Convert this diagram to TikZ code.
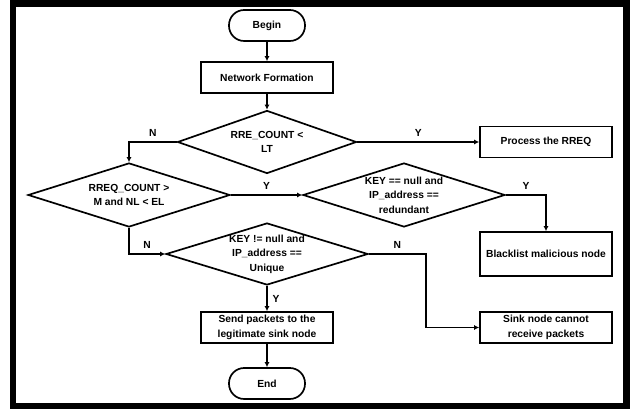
\documentclass[tikz,border=0pt]{standalone}
\usepackage{fontspec}
\setmainfont{Liberation Sans}
\usetikzlibrary{positioning, arrows.meta, shapes.geometric}

\begin{document}
\begin{tikzpicture}[
  every node/.style={font=\bfseries\fontsize{7.3}{10.4}\selectfont, align=center},
  term/.style={draw, line width=1.2pt, rounded corners=0.38cm,
               minimum width=1.9cm, minimum height=0.775cm},
  proc/.style={draw, line width=1.2pt, inner sep=1pt,
               minimum width=3.3cm, minimum height=0.775cm},
  decision/.style={draw, diamond, line width=1.2pt, inner sep=0pt,
               minimum width=5.05cm, minimum height=1.6cm},
  flow/.style={line width=1.2pt, -{Latex[length=3.5pt, width=3.5pt]}},
]
  \useasboundingbox (0,0) rectangle (15.75,-10.225);
  \fill[white] (0,0) rectangle (15.75,-10.225);
  \draw[line width=0.1625cm] (0.325,-0.0875) rectangle (15.6625,-10.15);

  % Start and first step
  \node[term] (begin) at (6.675,-0.6375) {Begin};
  \node[proc] (netform) at (6.675,-1.9375) {Network Formation};

  % Decisions
  \node[decision, minimum width=4.475cm, minimum height=1.575cm,
        label=center:{RRE\_COUNT <\\LT}] (d1) at (6.675,-3.55) {};
  \node[decision, label=center:{RREQ\_COUNT >\\M and NL < EL}] (d2) at (3.225,-4.875) {};
  \node[decision, label=center:{KEY == null and\\IP\_address ==\\redundant}] (d3) at (10.1,-4.875) {};
  \node[decision, minimum height=1.55cm,
        label=center:{KEY != null and\\IP\_address ==\\Unique}] (d4) at (6.675,-6.35) {};

  % Outcomes
  \node[proc] (process) at (13.65,-3.55) {Process the RREQ};
  \node[proc, minimum height=1.1cm] (black) at (13.65,-6.35) {Blacklist malicious node};
  \node[proc] (sink) at (13.65,-8.1875) {Sink node cannot\\receive packets};
  \node[proc] (send) at (6.675,-8.1875) {Send packets to the\\legitimate sink node};
  \node[term] (end) at (6.675,-9.5875) {End};

  % Arrows
  \draw[flow] (begin) -- (netform);
  \draw[flow] (netform) -- (d1);
  \draw[flow] (d1.east) -- node[above] {Y} (process.west);
  \draw[flow] (d1.west) -| node[pos=0.25, above] {N} (d2.north);
  \draw[flow] (d2.east) -- node[above] {Y} (d3.west);
  \draw[flow] (d3.east) -| node[pos=0.25, above] {Y} (black.north);
  \draw[flow] (d2.south) |- node[pos=0.75, above] {N} (d4.west);
  \draw[flow] (d4.east) -- ++(1.425,0) node[midway, above] {N} |- (sink.west);
  \draw[flow] (d4.south) -- node[right] {Y} (send.north);
  \draw[flow] (send) -- (end);
\end{tikzpicture}
\end{document}
